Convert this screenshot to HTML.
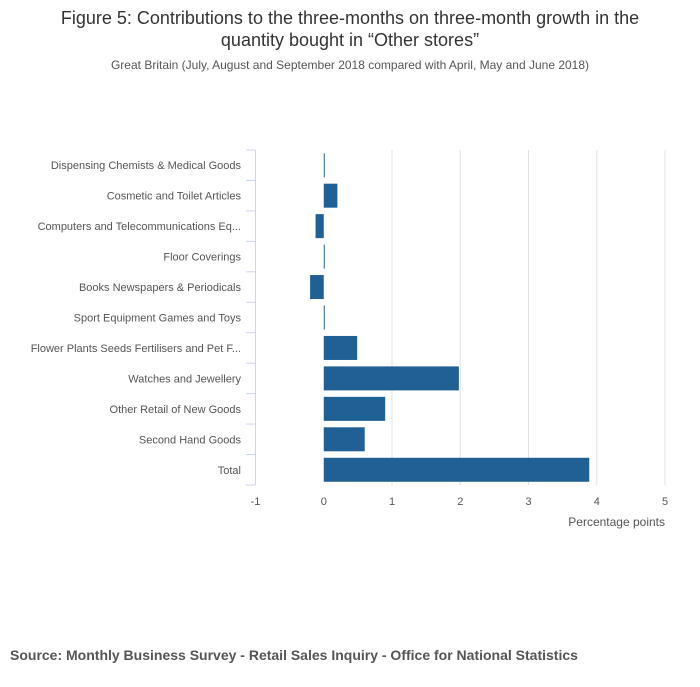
<!DOCTYPE html>
<html><head><meta charset="utf-8"><style>
body{margin:0;background:#fff;font-family:"Liberation Sans",sans-serif;}
</style></head><body>
<svg id="c" width="700" height="682" xmlns="http://www.w3.org/2000/svg">
<text x="350" y="24" text-anchor="middle" font-size="18" fill="#333">Figure 5: Contributions to the three-months on three-month growth in the</text>
<text x="350" y="46" text-anchor="middle" font-size="18" fill="#333">quantity bought in “Other stores”</text>
<text x="350" y="69" text-anchor="middle" font-size="12" fill="#555">Great Britain (July, August and September 2018 compared with April, May and June 2018)</text>
<text x="10" y="660" font-size="14" font-weight="bold" fill="#555">Source: Monthly Business Survey - Retail Sales Inquiry - Office for National Statistics</text>
<text x="665" y="526" text-anchor="end" font-size="12" fill="#555">Percentage points</text>
<g id="g"></g>
</svg>
<script>
const categories=["Dispensing Chemists & Medical Goods","Cosmetic and Toilet Articles","Computers and Telecommunications Eq...","Floor Coverings","Books Newspapers & Periodicals","Sport Equipment Games and Toys","Flower Plants Seeds Fertilisers and Pet F...","Watches and Jewellery","Other Retail of New Goods","Second Hand Goods","Total"];
const values=[0.01,0.2,-0.12,0.005,-0.2,0.005,0.49,1.98,0.9,0.6,3.89];
const ticks=[-1,0,1,2,3,4,5];
const NS="http://www.w3.org/2000/svg";
const g=document.getElementById('g');
const x0=255.5,x1=665,yTop=150,yBot=485;
const xs=v=>x0+(v-(-1))/(6)*(x1-x0);
const band=(yBot-yTop)/categories.length;
function mk(t,a){const e=document.createElementNS(NS,t);for(const k in a)e.setAttribute(k,a[k]);g.appendChild(e);return e;}
ticks.forEach(t=>{
  if(t>0){const l=mk('line',{x1:xs(t),x2:xs(t),y1:yTop,y2:yBot,stroke:'#e0e0e0'});
  
  }
  const tx=mk('text',{x:xs(t),y:505,'text-anchor':'middle','font-size':11,fill:'#555'});tx.textContent=t;
  
  
});
const ax=mk('line',{x1:x0,x2:x0,y1:yTop,y2:yBot,stroke:'#ccd6eb'});


for(let i=0;i<=categories.length;i++){const y=yTop+i*band;const tk=mk('line',{x1:246,x2:x0,y1:y,y2:y,stroke:'#ccd6eb'});

}
categories.forEach((c,i)=>{
  const cy=yTop+(i+0.5)*band;
  const t=mk('text',{x:241,y:cy+4,'text-anchor':'end','font-size':11,fill:'#555'});t.textContent=c;
  
  
  const v=values[i];const a=Math.min(xs(0),xs(v)),w=Math.max(1,Math.abs(xs(v)-xs(0)));
  const r=mk('rect',{x:a,y:cy-12,width:w,height:24,fill:'#206095'});
  
  
});
</script>
</body></html>
